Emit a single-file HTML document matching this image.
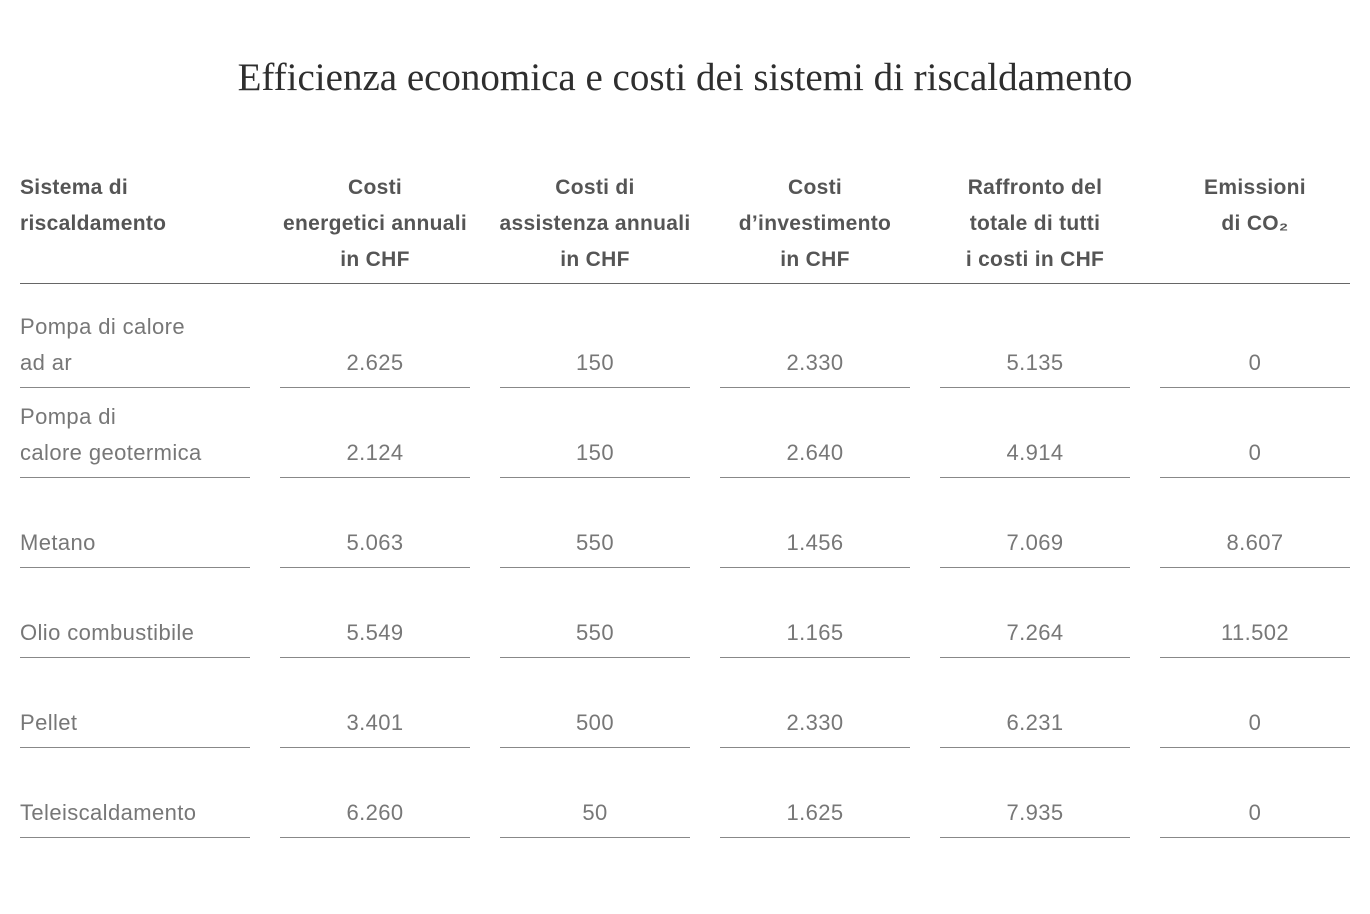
<!DOCTYPE html>
<html><head><meta charset="utf-8"><style>
body{margin:0;width:1370px;height:914px;background:#fff;position:relative;overflow:hidden;font-family:"Liberation Sans",sans-serif}
.t{position:absolute;left:0;width:1370px;top:55px;text-align:center;font-family:"Liberation Serif",serif;font-size:39px;color:#2e2e2e;letter-spacing:0px}
.h{position:absolute;top:170px;font-size:21px;line-height:36px;color:#555;font-weight:bold;letter-spacing:0.3px}
.c{text-align:center;width:230px}
.hl{position:absolute;left:20px;width:1330px;top:283px;height:1px;background:#666}
.r{position:absolute;font-size:22px;line-height:36px;color:#777;letter-spacing:0.4px}
.l{position:absolute;height:1px;background:#888}
</style></head><body>
<div class="t">Efficienza economica e costi dei sistemi di riscaldamento</div>
<div class="h" style="left:20px">Sistema di<br>riscaldamento</div>
<div class="h c" style="left:260px">Costi<br>energetici annuali<br>in CHF</div>
<div class="h c" style="left:480px">Costi di<br>assistenza annuali<br>in CHF</div>
<div class="h c" style="left:700px">Costi<br>d’investimento<br>in CHF</div>
<div class="h c" style="left:920px">Raffronto del<br>totale di tutti<br>i costi in CHF</div>
<div class="h c" style="left:1140px">Emissioni<br>di CO₂</div>
<div class="hl"></div>
<div id="rows"></div>
<script>
var d=[["Pompa di calore<br>ad ar","2.625","150","2.330","5.135","0"],
["Pompa di<br>calore geotermica","2.124","150","2.640","4.914","0"],
["Metano","5.063","550","1.456","7.069","8.607"],
["Olio combustibile","5.549","550","1.165","7.264","11.502"],
["Pellet","3.401","500","2.330","6.231","0"],
["Teleiscaldamento","6.260","50","1.625","7.935","0"]];
var h="";var cx=[375,595,815,1035,1255];
d.forEach(function(r,i){var ly=387+i*90;
h+='<div class="r" style="left:20px;bottom:'+(914-ly+6)+'px">'+r[0]+'</div>';
h+='<div class="l" style="left:20px;width:230px;top:'+ly+'px"></div>';
for(var j=0;j<5;j++){h+='<div class="r" style="left:'+(cx[j]-95)+'px;width:190px;text-align:center;top:'+(ly-42)+'px">'+r[j+1]+'</div>';
h+='<div class="l" style="left:'+(cx[j]-95)+'px;width:190px;top:'+ly+'px"></div>';}});
document.getElementById("rows").innerHTML=h;
</script>
</body></html>
